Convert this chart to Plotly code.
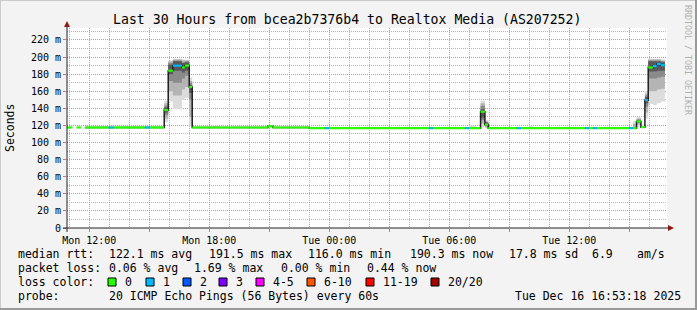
import plotly.graph_objects as go

# ---------------- canvas geometry ----------------
W, H = 697, 310
ML, MR, MT, MB = 67, 30, 28, 82
PW, PH = W - ML - MR, H - MT - MB

def xp(x):
    return (x - ML) / PW

def yp(y):
    return (H - MB - y) / PH

# ---------------- data ----------------
MON, TUE = "2025-12-15 ", "2025-12-16 "
range_start = MON + "10:53:18"
range_end = TUE + "16:53:18"

# median rtt (ms) per consolidated step; None = no data
seg_start = [MON + t for t in ["10:53", "11:10", "11:22", "11:35", "11:47", "12:59", "13:12", "14:47",
                               "15:00", "15:45", "15:57", "16:11", "16:38", "16:47", "17:00", "17:09",
                               "20:56", "21:11", "23:00", "23:47", "23:59"]] + \
            [TUE + t for t in ["05:00", "05:11", "06:47", "06:59", "07:34", "07:47", "07:57", "09:23",
                               "09:35", "12:47", "12:59", "13:11", "13:23", "14:59", "15:11", "15:22",
                               "15:35", "15:47", "15:57", "16:11", "16:23", "16:35"]]
seg_median = [117.6, None, 117.6, None, 117.6, 117.6, 117.6, 117.6,
              117.6, 138.0, 184.0, 190.0, 187.8, 190.0, 165.0, 117.6,
              119.0, 117.6, 116.8, 116.8, 116.8,
              116.8, 116.8, 116.8, 116.8, 136.0, 121.0, 116.8, 116.8,
              116.8, 116.8, 116.8, 116.8, 116.8, 116.8, 116.8, 124.6,
              118.0, 149.6, 187.8, 189.4, 192.0, 190.5]
seg_loss = [0, None, 0, None, 0, 1, 0, 1,
            0, 0, 0, 1, 0, 0, 0, 0,
            0, 0, 0, 1, 0,
            1, 0, 1, 0, 0, 0, 0, 1,
            0, 1, 0, 1, 0, 1, 0, 0,
            0, 1, 0, 1, 1, 1]
data_end = TUE + "16:47"

# smoke (ping spread) bands, ms: four layers from outer to inner
smoke_t0 = [MON + t for t in ["15:45", "15:57", "16:11", "16:38", "16:47", "17:00", "18:11", "20:56"]] + \
           [TUE + t for t in ["06:59", "07:34", "07:47", "09:59", "15:11", "15:22", "15:35", "15:47",
                              "15:57", "16:11", "16:23", "16:35"]]
smoke_t1 = [MON + t for t in ["15:57", "16:11", "16:38", "16:47", "17:00", "17:09", "18:26", "21:11"]] + \
           [TUE + t for t in ["07:20", "07:47", "07:57", "10:11", "15:22", "15:35", "15:47", "15:57",
                              "16:11", "16:23", "16:35", "16:47"]]
s1_lo = [124, 148, 139, 150, 152, 119, 117, 117, 116.8, 118, 117, 116.8, 116.8, 118, 117, 128, 145, 144, 146, 148]
s1_hi = [149, 196, 198, 197, 197, 176, 120, 120.5, 120, 149, 126, 120, 125, 130, 121, 160, 198, 198, 198, 197]
s2_lo = [128, 160, 155, 162, 165, 130, None, None, None, 122, 118, None, 117, 121, None, 135, 160, 160, 162, 163]
s2_hi = [146, 195, 197, 196, 196, 172, None, None, None, 146, 125, None, 122, 128, None, 157, 197, 197, 197, 196]
s3_lo = [132, 172, 170, 175, 178, 150, None, None, None, 126, 119, None, None, 123, None, 142, 175, 175, 176, 177]
s3_hi = [143, 193, 196, 194, 195, 170, None, None, None, 143, 124, None, None, 127, None, 155, 196, 196, 196, 195]
s4_lo = [135, 180, 184, 182, 184, 158, None, None, None, 129, 120, None, None, None, None, 146, 183, 183, 184, 184]
s4_hi = [141, 191, 195, 193, 194, 167, None, None, None, 139, 123, None, None, None, None, 153, 195, 195, 195, 194]
smoke_colors = ["#dcdcdc", "#b4b4b4", "#8a8a8a", "#585858"]

loss_labels = ["0", "1", "2", "3", "4-5", "6-10", "11-19", "20/20"]
loss_colors = ["#26ff00", "#00b8ff", "#0059ff", "#7e00ff", "#ff00ff", "#ff5500", "#ff0000", "#a10000"]

x_tickvals = [MON + t for t in ["12:00", "15:00", "18:00", "21:00"]] + \
             [TUE + t for t in ["00:00", "03:00", "06:00", "09:00", "12:00", "15:00"]]
x_ticktext = ["Mon 12:00", "", "Mon 18:00", "", "Tue 00:00", "", "Tue 06:00", "", "Tue 12:00", ""]
y_tickvals = [0, 20, 40, 60, 80, 100, 120, 140, 160, 180, 200, 220]
y_ticktext = ["0"] + [f"{v} m" for v in y_tickvals[1:]]

title = "Last 30 Hours from bcea2b7376b4 to Realtox Media (AS207252)"
legend_rows = [
    [(16, "median rtt:"), (107, "122.1 ms avg"), (207, "191.5 ms max"), (306, "116.0 ms min"),
     (408, "190.3 ms now"), (507, "17.8 ms sd"), (590, "6.9"), (635, "am/s")],
    [(16, "packet loss:"), (107, "0.06 % avg"), (192, "1.69 % max"), (279, "0.00 % min"), (365, "0.44 % now")],
    [(16, "loss color:")],
    [(16, "probe:"), (107, "20 ICMP Echo Pings (56 Bytes) every 60s"), (513, "Tue Dec 16 16:53:18 2025")],
]
legend_y = [254, 268, 282, 296]
box_x = [108, 146, 183, 219, 256, 307, 366, 431]
label_x = [123, 161, 198, 234, 271, 322, 381, 446]

MONO = "DejaVu Sans Mono"
fig = go.Figure()

# smoke layers
layers = [(s1_lo, s1_hi), (s2_lo, s2_hi), (s3_lo, s3_hi), (s4_lo, s4_hi)]
for (lo, hi), col in zip(layers, smoke_colors):
    xs, ys = [], []
    for t0, t1, a, b in zip(smoke_t0, smoke_t1, lo, hi):
        if a is None:
            continue
        xs += [t0, t1, t1, t0, t0, None]
        ys += [a, a, b, b, a, None]
    fig.add_trace(go.Scatter(x=xs, y=ys, mode="lines", fill="toself", fillcolor=col,
                             line=dict(width=0), hoverinfo="skip", showlegend=False))

# dark median step line
seg_end = seg_start[1:] + [data_end]
dx, dy = [], []
for t0, v in zip(seg_start, seg_median):
    dx.append(t0)
    dy.append(v)
dx.append(data_end)
dy.append(seg_median[-1])
fig.add_trace(go.Scatter(x=dx, y=dy, mode="lines", line=dict(color="#202020", width=1.5, shape="hv"),
                         connectgaps=False, hoverinfo="skip", showlegend=False))

# coloured median segments by loss
for k, col in enumerate(loss_colors):
    xs, ys = [], []
    for t0, t1, v, l in zip(seg_start, seg_end, seg_median, seg_loss):
        if v is None or l != k:
            continue
        xs += [t0, t1, None]
        ys += [v, v, None]
    if xs:
        fig.add_trace(go.Scatter(x=xs, y=ys, mode="lines", line=dict(color=col, width=2.2),
                                 hoverinfo="skip", showlegend=False))

shapes = []
ann = []
# frame
shapes.append(dict(type="rect", xref="paper", yref="paper", x0=xp(0), x1=xp(W), y0=yp(0), y1=yp(1),
                   fillcolor="#cbcbcb", line=dict(width=0), layer="below"))
shapes.append(dict(type="rect", xref="paper", yref="paper", x0=xp(0), x1=xp(1), y0=yp(0), y1=yp(H),
                   fillcolor="#cbcbcb", line=dict(width=0), layer="below"))
shapes.append(dict(type="rect", xref="paper", yref="paper", x0=xp(0), x1=xp(W), y0=yp(H - 2), y1=yp(H),
                   fillcolor="#999999", line=dict(width=0), layer="below"))
shapes.append(dict(type="rect", xref="paper", yref="paper", x0=xp(W - 2), x1=xp(W), y0=yp(0), y1=yp(H),
                   fillcolor="#999999", line=dict(width=0), layer="below"))
# axes with arrows
shapes.append(dict(type="line", xref="paper", yref="paper", x0=xp(63), x1=xp(670), y0=yp(228), y1=yp(228),
                   line=dict(color="#202020", width=1)))
shapes.append(dict(type="line", xref="paper", yref="paper", x0=xp(67), x1=xp(67), y0=yp(232), y1=yp(24),
                   line=dict(color="#202020", width=1)))
shapes.append(dict(type="path", xref="paper", yref="paper",
                   path=f"M {xp(668)} {yp(225)} L {xp(674)} {yp(228)} L {xp(668)} {yp(231)} Z",
                   fillcolor="#8b1a1a", line=dict(width=0)))
shapes.append(dict(type="path", xref="paper", yref="paper",
                   path=f"M {xp(64)} {yp(27)} L {xp(67)} {yp(21)} L {xp(70)} {yp(27)} Z",
                   fillcolor="#8b1a1a", line=dict(width=0)))

# legend colour boxes
for bx, col in zip(box_x, loss_colors):
    shapes.append(dict(type="rect", xref="paper", yref="paper", x0=xp(bx), x1=xp(bx + 8),
                       y0=yp(286), y1=yp(278), fillcolor=col, line=dict(color="#000000", width=1)))

ann.append(dict(text=title, x=xp(347), y=yp(19), xref="paper", yref="paper", showarrow=False,
                xanchor="center", yanchor="middle", font=dict(family=MONO, size=13.2, color="#000")))
ann.append(dict(text="Seconds", x=xp(10), y=yp(128), xref="paper", yref="paper", showarrow=False,
                textangle=-90, xanchor="center", yanchor="middle",
                font=dict(family=MONO, size=11.5, color="#000")))
ann.append(dict(text="RRDTOOL / TOBI OETIKER", x=xp(688), y=yp(60), xref="paper", yref="paper",
                showarrow=False, textangle=90, xanchor="center", yanchor="middle",
                font=dict(family=MONO, size=8.3, color="#b0b0b0")))
for row, yy in zip(legend_rows, legend_y):
    for x0, txt in row:
        ann.append(dict(text=txt, x=xp(x0), y=yp(yy), xref="paper", yref="paper", showarrow=False,
                        xanchor="left", yanchor="middle", font=dict(family=MONO, size=11.5, color="#000")))
for lx, lab in zip(label_x, loss_labels):
    ann.append(dict(text=lab, x=xp(lx), y=yp(282), xref="paper", yref="paper", showarrow=False,
                    xanchor="left", yanchor="middle", font=dict(family=MONO, size=11.5, color="#000")))

MAJ = "rgba(240,130,130,0.9)"
MIN = "rgba(175,175,175,0.9)"
fig.update_layout(
    width=W, height=H,
    margin=dict(l=ML, r=MR, t=MT, b=MB, pad=0),
    paper_bgcolor="#f3f3f3", plot_bgcolor="#ffffff",
    shapes=shapes, annotations=ann, showlegend=False,
    xaxis=dict(type="date", range=[range_start, range_end], tickmode="array",
               tickvals=x_tickvals, ticktext=x_ticktext, showgrid=True, gridcolor=MAJ,
               griddash="1px,1px", gridwidth=1, ticks="outside", ticklen=3, tickcolor="#e07070",
               tickfont=dict(family=MONO, size=10, color="#000"), showline=False, zeroline=False,
               minor=dict(dtick=3600000, tick0=MON + "00:00", showgrid=True, gridcolor=MIN,
                          griddash="1px,1px", gridwidth=1)),
    yaxis=dict(range=[0, 234], tickmode="array", tickvals=y_tickvals, ticktext=y_ticktext,
               showgrid=True, gridcolor=MAJ, griddash="1px,1px", gridwidth=1,
               ticks="outside", ticklen=3, tickcolor="#e07070",
               tickfont=dict(family=MONO, size=10, color="#000"), showline=False, zeroline=False,
               minor=dict(dtick=10, tick0=0, showgrid=True, gridcolor=MIN, griddash="1px,1px", gridwidth=1)),
)

fig.write_html("out.html", config={"displayModeBar": False})
